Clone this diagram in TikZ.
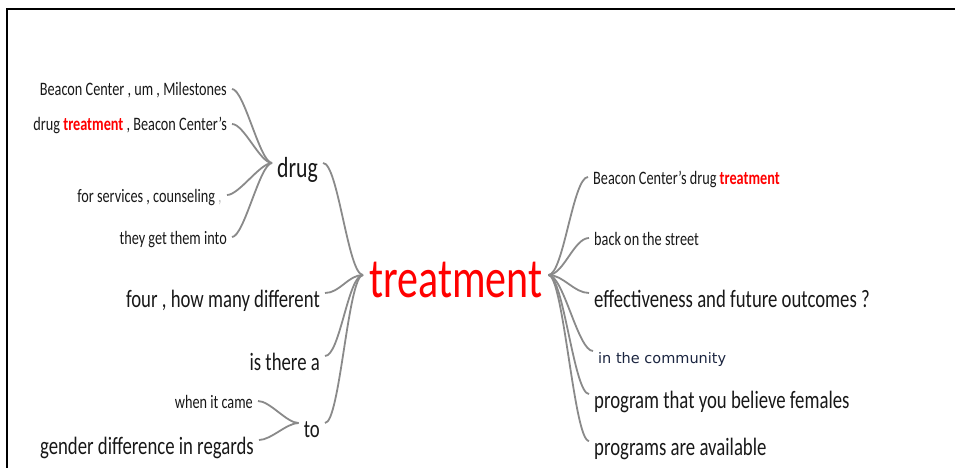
\documentclass[tikz,border=0pt]{standalone}
\usepackage{fontspec}
\setmainfont{Carlito}[FakeStretch=0.75]
\newfontfamily\plainfont{DejaVu Sans}
\usetikzlibrary{positioning}
\definecolor{linkgray}{HTML}{8A8A8A}
\definecolor{wordgray}{HTML}{181818}
\definecolor{navyword}{HTML}{1B2540}

\begin{document}
\begin{tikzpicture}
  [x=1pt, y=-1pt,
  word/.style={text=wordgray, inner xsep=5pt, inner ysep=0pt},
  small/.style={word, font=\fontsize{19}{22}\selectfont, text height=16pt, text depth=2pt},
  mid/.style={word, font=\fontsize{25}{28}\selectfont, text height=30pt, text depth=2pt},
  big/.style={word, text=red, inner xsep=6pt, font=\fontsize{56}{62}\selectfont, text height=46pt, text depth=2pt},
  link/.style={draw=linkgray, line width=1.8pt}]
  \useasboundingbox (0,0) rectangle (955,468);
  \draw[line width=1.2pt] (7,468) -- (7,9) -- (955,9);

  \node[big, anchor=base west] (treat) at (363,297) {treatment};

  \node[mid, anchor=base west, font=\fontsize{29}{32}\selectfont] (drug) at (272,177) {drug};
  \node[small, anchor=base east] (d1) at (232,96) {Beacon Center , um , Milestones};
  \node[small, anchor=base east] (d2) at (232,131) {drug {\color{red}\bfseries treatment} , Beacon Center's};
  \node[small, anchor=base east] (d3) at (227,202) {for services , counseling {\color{lightgray},}};
  \node[small, anchor=base east] (d4) at (232,244) {they get them into};

  \node[mid, anchor=base east] (four) at (325,307) {four , how many different};
  \node[mid, anchor=base east] (isthere) at (325,370) {is there a};

  \node[mid, anchor=base east] (tow) at (325,437) {to};
  \node[small, anchor=base east] (t1) at (258,408) {when it came};
  \node[mid, anchor=base east] (t2) at (259,454) {gender difference in regards};

  \node[small, anchor=base west] (r1) at (588,184) {Beacon Center's drug {\color{red}\bfseries treatment}};
  \node[small, anchor=base west] (r2) at (589,245) {back on the street};
  \node[mid, anchor=base west] (r3) at (589,307) {effectiveness and future outcomes ?};
  \node[word, anchor=base west, text=navyword, font=\plainfont\fontsize{14.5}{17}\selectfont, text height=26pt, text depth=2pt] (r4) at (593,363) {in the community};
  \node[mid, anchor=base west] (r5) at (589,408) {program that you believe females};
  \node[mid, anchor=base west] (r6) at (589,455) {programs are available};

  \foreach \leaf in {r1,r2,r3,r4,r5,r6}
    \draw[link] (treat.east) .. controls +(15,0) and +(-15,0) .. (\leaf.west);
  \foreach \leaf in {drug,four,isthere,tow}
    \draw[link] (treat.west) .. controls +(-15,0) and +(15,0) .. (\leaf.east);
  \foreach \leaf in {d1,d2,d3,d4}
    \draw[link] (drug.west) .. controls +(-12,0) and +(12,0) .. (\leaf.east);
  \foreach \leaf in {t1,t2}
    \draw[link] (tow.west) .. controls +(-12,0) and +(12,0) .. (\leaf.east);
\end{tikzpicture}
\end{document}
